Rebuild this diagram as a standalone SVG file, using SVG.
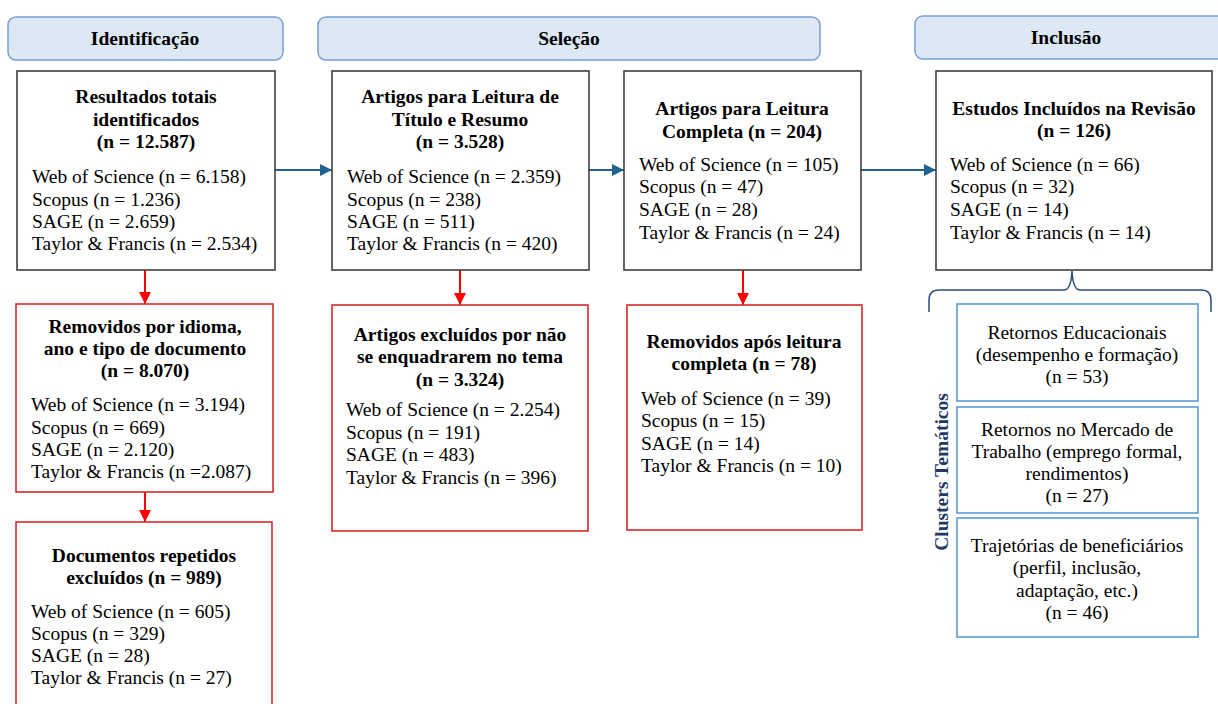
<svg xmlns="http://www.w3.org/2000/svg" width="1218" height="704" viewBox="0 0 1218 704">
<defs>
<style>
text{font-family:"Liberation Serif","Times New Roman",serif;font-size:19.5px;fill:#000}
.b{font-weight:bold}
.c{text-anchor:middle}
.hdr{fill:#dde8f5;stroke:#7a9fd6;stroke-width:1.5}
.box{fill:#fff;stroke:#3f3f3f;stroke-width:1.6}
.red{fill:#fff;stroke:#d8282e;stroke-width:1.6}
.cl{fill:#fff;stroke:#5b9bd5;stroke-width:1.6}
.ab{stroke:#1f6391;stroke-width:2;fill:none}
.ar{stroke:#ff0000;stroke-width:2;fill:none}
</style>
<marker id="mb" markerUnits="userSpaceOnUse" markerWidth="14" markerHeight="12" refX="12" refY="6" orient="auto"><path d="M0,0 L12,6 L0,12 Z" fill="#1f6391"/></marker>
<marker id="mr" markerUnits="userSpaceOnUse" markerWidth="14" markerHeight="12" refX="12" refY="6" orient="auto"><path d="M0,0 L12,6 L0,12 Z" fill="#ff0000"/></marker>
</defs>
<rect width="1218" height="704" fill="#fff"/>

<g id="hdr-identificacao"><rect class="hdr" x="8" y="17" width="275" height="43" rx="8"/><text class="b c" x="145" y="45">Identificação</text></g>
<g id="hdr-selecao"><rect class="hdr" x="318" y="17" width="502" height="43" rx="8"/><text class="b c" x="569" y="45">Seleção</text></g>
<g id="hdr-inclusao"><rect class="hdr" x="915" y="16" width="310" height="43" rx="8"/><text class="b c" x="1066" y="44">Inclusão</text></g>

<g id="connectors">
<line class="ab" x1="275" y1="170" x2="332" y2="170" marker-end="url(#mb)"/>
<line class="ab" x1="589" y1="170" x2="624" y2="170" marker-end="url(#mb)"/>
<line class="ab" x1="861" y1="170" x2="936" y2="170" marker-end="url(#mb)"/>
<line class="ar" x1="145" y1="270" x2="145" y2="304" marker-end="url(#mr)"/>
<line class="ar" x1="145" y1="492" x2="145" y2="522" marker-end="url(#mr)"/>
<line class="ar" x1="460" y1="270" x2="460" y2="305" marker-end="url(#mr)"/>
<line class="ar" x1="743" y1="270" x2="743" y2="305" marker-end="url(#mr)"/>
<path d="M929,312 L929,300 Q929,290 939,290 L1064,290 Q1071,290 1072,271 Q1073,290 1080,290 L1201,290 Q1211,290 1211,300 L1211,312" fill="none" stroke="#2f4a7a" stroke-width="1.5"/>
</g>

<g id="node-resultados">
<rect class="box" x="17" y="71" width="258" height="199"/>
<text class="b c" x="146" y="103">Resultados totais</text>
<text class="b c" x="146" y="126">identificados</text>
<text class="b c" x="146" y="148">(n = 12.587)</text>
<text x="32" y="183">Web of Science (n = 6.158)</text>
<text x="32" y="206">Scopus (n = 1.236)</text>
<text x="32" y="228">SAGE (n = 2.659)</text>
<text x="32" y="250">Taylor &amp; Francis (n = 2.534)</text>
</g>

<g id="node-titulo-resumo">
<rect class="box" x="332" y="71" width="257" height="199"/>
<text class="b c" x="460" y="103">Artigos para Leitura de</text>
<text class="b c" x="460" y="126">Título e Resumo</text>
<text class="b c" x="460" y="148">(n = 3.528)</text>
<text x="347" y="183">Web of Science (n = 2.359)</text>
<text x="347" y="206">Scopus (n = 238)</text>
<text x="347" y="228">SAGE (n = 511)</text>
<text x="347" y="250">Taylor &amp; Francis (n = 420)</text>
</g>

<g id="node-leitura-completa">
<rect class="box" x="624" y="71" width="237" height="199"/>
<text class="b c" x="742" y="115">Artigos para Leitura</text>
<text class="b c" x="742" y="138">Completa (n = 204)</text>
<text x="639" y="171">Web of Science (n = 105)</text>
<text x="639" y="193">Scopus (n = 47)</text>
<text x="639" y="216">SAGE (n = 28)</text>
<text x="639" y="239">Taylor &amp; Francis (n = 24)</text>
</g>

<g id="node-incluidos">
<rect class="box" x="936" y="71" width="276" height="199"/>
<text class="b c" x="1074" y="115">Estudos Incluídos na Revisão</text>
<text class="b c" x="1074" y="137">(n = 126)</text>
<text x="950" y="171">Web of Science (n = 66)</text>
<text x="950" y="193">Scopus (n = 32)</text>
<text x="950" y="216">SAGE (n = 14)</text>
<text x="950" y="239">Taylor &amp; Francis (n = 14)</text>
</g>

<g id="node-removidos-idioma">
<rect class="red" x="16" y="304" width="257" height="188"/>
<text class="b c" x="145" y="333">Removidos por idioma,</text>
<text class="b c" x="145" y="355">ano e tipo de documento</text>
<text class="b c" x="145" y="377">(n = 8.070)</text>
<text x="31" y="411">Web of Science (n = 3.194)</text>
<text x="31" y="434">Scopus (n = 669)</text>
<text x="31" y="456">SAGE (n = 2.120)</text>
<text x="31" y="478">Taylor &amp; Francis (n =2.087)</text>
</g>

<g id="node-repetidos">
<rect class="red" x="16" y="522" width="256" height="190"/>
<text class="b c" x="144" y="562">Documentos repetidos</text>
<text class="b c" x="144" y="584">excluídos (n = 989)</text>
<text x="31" y="618">Web of Science (n = 605)</text>
<text x="31" y="640">Scopus (n = 329)</text>
<text x="31" y="662">SAGE (n = 28)</text>
<text x="31" y="684">Taylor &amp; Francis (n = 27)</text>
</g>

<g id="node-excluidos-tema">
<rect class="red" x="332" y="305" width="256" height="226"/>
<text class="b c" x="460" y="341">Artigos excluídos por não</text>
<text class="b c" x="460" y="363">se enquadrarem no tema</text>
<text class="b c" x="460" y="386">(n = 3.324)</text>
<text x="346" y="416">Web of Science (n = 2.254)</text>
<text x="346" y="439">Scopus (n = 191)</text>
<text x="346" y="461">SAGE (n = 483)</text>
<text x="346" y="484">Taylor &amp; Francis (n = 396)</text>
</g>

<g id="node-removidos-leitura">
<rect class="red" x="627" y="305" width="235" height="225"/>
<text class="b c" x="744" y="348">Removidos após leitura</text>
<text class="b c" x="744" y="370">completa (n = 78)</text>
<text x="641" y="405">Web of Science (n = 39)</text>
<text x="641" y="427">Scopus (n = 15)</text>
<text x="641" y="450">SAGE (n = 14)</text>
<text x="641" y="472">Taylor &amp; Francis (n = 10)</text>
</g>

<g id="clusters-label">
<text class="b c" transform="translate(948,472) rotate(-90)" style="fill:#1f3864">Clusters Temáticos</text>
</g>

<g id="node-cluster-educacionais">
<rect class="cl" x="957" y="304" width="241" height="97"/>
<text class="c" x="1077" y="339">Retornos Educacionais</text>
<text class="c" x="1077" y="361">(desempenho e formação)</text>
<text class="c" x="1077" y="383">(n = 53)</text>
</g>

<g id="node-cluster-mercado">
<rect class="cl" x="957" y="407" width="241" height="106"/>
<text class="c" x="1077" y="436">Retornos no Mercado de</text>
<text class="c" x="1077" y="458">Trabalho (emprego formal,</text>
<text class="c" x="1077" y="480">rendimentos)</text>
<text class="c" x="1077" y="502">(n = 27)</text>
</g>

<g id="node-cluster-trajetorias">
<rect class="cl" x="957" y="518" width="241" height="119"/>
<text class="c" x="1077" y="552">Trajetórias de beneficiários</text>
<text class="c" x="1077" y="574">(perfil, inclusão,</text>
<text class="c" x="1077" y="597">adaptação, etc.)</text>
<text class="c" x="1077" y="619">(n = 46)</text>
</g>
</svg>
